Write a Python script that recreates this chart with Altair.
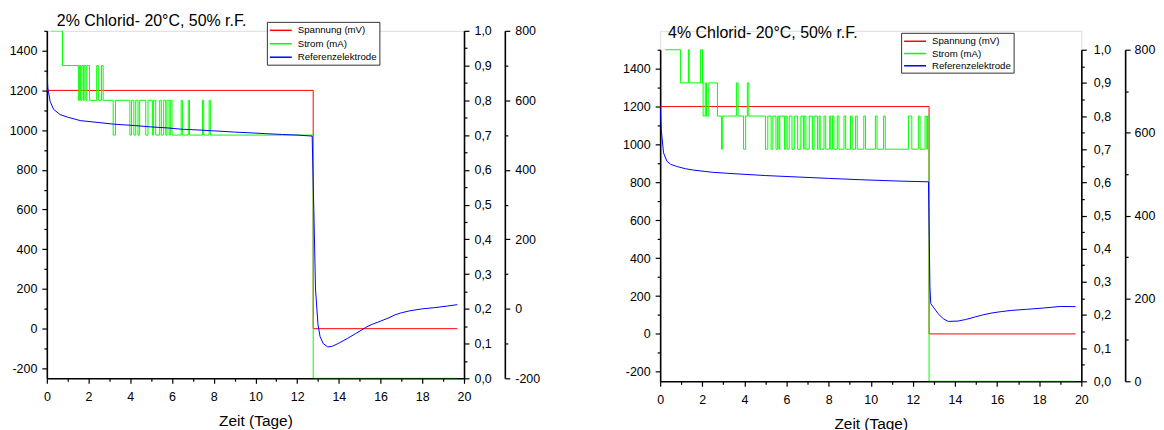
import altair as alt
import pandas as pd

FONT = "Liberation Sans"
SERIES = ["Spannung (mV)", "Strom (mA)", "Referenzelektrode"]
COLORS = ["#ff0000", "#00ff00", "#0000ff"]

# ---------------- left panel: 2% Chlorid ----------------
L_TITLE = "2% Chlorid- 20°C, 50% r.F."
L_SP_T = [0.0, 12.77, 12.77, 19.68]
L_SP_V = [1200, 1200, 0, 0]
L_ST_T = [0.19, 0.75, 1.51, 1.57, 1.62, 1.68, 1.75, 1.79, 1.87, 1.92, 2.05, 2.39, 2.47,
          2.62, 2.70, 3.18, 3.29, 3.98, 4.06, 4.17, 4.26, 4.37, 4.45, 4.74, 4.85, 5.06,
          5.12, 5.22, 5.41, 5.49, 5.60, 5.70, 5.76, 5.86, 5.92, 6.00, 6.44, 6.50, 6.78,
          6.84, 7.46, 7.52, 7.78, 7.84, 12.77, 19.68]
L_ST_V = [1.0, 0.9, 0.8, 0.9, 0.8, 0.9, 0.8, 0.9, 0.8, 0.9, 0.8, 0.9, 0.8,
          0.9, 0.8, 0.7, 0.8, 0.7, 0.8, 0.7, 0.8, 0.7, 0.8, 0.7, 0.8, 0.7,
          0.8, 0.7, 0.8, 0.7, 0.8, 0.7, 0.8, 0.7, 0.8, 0.7, 0.8, 0.7, 0.8,
          0.7, 0.8, 0.7, 0.8, 0.7, 0.0, 0.0]
L_REF_T = [0.0, 0.05, 0.16, 0.32, 0.64, 1.0, 1.6, 2.5, 3.2, 4.2, 5.0, 5.8, 6.4, 7.4, 8.2,
           9.0, 9.8, 10.5, 11.3, 12.0, 12.72, 12.8, 12.88, 13.0, 13.1, 13.25, 13.47, 13.7,
           14.0, 14.4, 14.8, 15.2, 15.35, 15.6, 16.0, 16.4, 16.7, 17.0, 17.4, 18.0, 18.6,
           19.2, 19.68]
L_REF_V = [1290, 1210, 1145, 1105, 1078, 1065, 1048, 1038, 1030, 1023, 1016, 1011, 1005,
           1000, 995, 990, 986, 982, 978, 975, 970, 600, 200, 20, -40, -75, -92, -88,
           -73, -50, -25, 0, 10, 22, 38, 55, 70, 80, 90, 100, 106, 114, 121]
L_REF_DOMAIN = [-200, 800]
L_REF_TICKS = list(range(-200, 900, 100))

# ---------------- right panel: 4% Chlorid ----------------
R_TITLE = "4% Chlorid- 20°C, 50% r.F."
R_SP_T = [0.0, 12.77, 12.77, 19.73]
R_SP_V = [1200, 1200, 0, 0]
R_ST_T = [0.24, 0.97, 1.34, 1.38, 1.92, 2.01, 2.04, 2.14, 2.20, 2.31, 2.72, 2.91, 2.97,
          3.62, 3.70, 3.96, 4.06, 4.14, 4.21, 5.00, 5.11, 5.27, 5.35, 5.50, 5.58, 5.64,
          5.68, 5.90, 5.97, 6.03, 6.13, 6.26, 6.37, 6.53, 6.68, 6.80, 6.84, 6.92, 7.08,
          7.23, 7.31, 7.47, 7.55, 7.60, 7.78, 7.86, 8.05, 8.10, 8.18, 8.25, 8.41, 8.49,
          8.73, 8.81, 9.04, 9.12, 9.28, 9.36, 9.67, 9.75, 10.22, 10.30, 10.61, 10.69,
          11.79, 11.95, 12.26, 12.34, 12.58, 12.66, 12.70, 12.77, 19.73]
R_ST_V = [1.0, 0.9, 1.0, 0.9, 1.0, 0.9, 0.8, 0.9, 0.8, 0.9, 0.8, 0.7, 0.8,
          0.9, 0.8, 0.7, 0.8, 0.9, 0.8, 0.7, 0.8, 0.7, 0.8, 0.7, 0.8, 0.7,
          0.8, 0.7, 0.8, 0.7, 0.8, 0.7, 0.8, 0.7, 0.8, 0.7, 0.8, 0.7, 0.8,
          0.7, 0.8, 0.7, 0.8, 0.7, 0.8, 0.7, 0.8, 0.7, 0.8, 0.7, 0.8, 0.7,
          0.8, 0.7, 0.8, 0.7, 0.8, 0.7, 0.8, 0.7, 0.8, 0.7, 0.8, 0.7,
          0.8, 0.7, 0.8, 0.7, 0.8, 0.7, 0.8, 0.0, 0.0]
R_REF_T = [0.0, 0.05, 0.16, 0.32, 0.5, 0.79, 1.2, 1.57, 2.5, 3.46, 5.0, 6.6, 8.0, 9.5,
           11.3, 12.74, 12.78, 12.81, 12.85, 12.97, 13.2, 13.45, 13.68, 14.15, 14.5,
           14.94, 15.3, 15.72, 16.2, 16.67, 17.4, 18.24, 19.0, 19.73]
R_REF_V = [1200, 1080, 956, 912, 895, 884, 872, 865, 853, 846, 836, 828, 821, 814,
           807, 803, 500, 250, 160, 142, 107, 80, 66, 68, 76, 89, 100, 110, 118, 124,
           130, 137, 145, 144]
R_REF_DOMAIN = [0, 800]
R_REF_TICKS = list(range(0, 900, 100))

# ---------------- shared axes ----------------
X_DOMAIN = [0, 20]
X_TICKS = list(range(0, 21))
SP_DOMAIN = [-250, 1500]
SP_TICKS = list(range(-200, 1600, 100))
ST_DOMAIN = [0, 1]
ST_TICKS = [round(i * 0.05, 2) for i in range(21)]


def line_df(ts, vs, name):
    return pd.DataFrame({"t": ts, "v": vs, "s": name, "i": list(range(len(ts)))})


def tick_size(test):
    return {"condition": {"test": test, "value": 5}, "value": 3}


def make_axis(values, test, label_expr, **kw):
    opts = dict(values=values, labelExpr=label_expr, tickSize=tick_size(test),
                domainColor="black", domainWidth=1.6, tickColor="black", tickWidth=1.2,
                labelColor="black", labelFont=FONT, labelFontSize=12.5,
                labelOverlap=False, labelFlush=False, grid=False, title=None)
    opts.update(kw)
    return alt.Axis(**opts)


def panel(title, title_dx, title_off, sp_t, sp_v, st_t, st_v, ref_t, ref_v, ref_domain,
          ref_ticks, w, h, inset, lx, ly, far_offset, mid_pad, far_pad, row_pad):
    sp = line_df(sp_t, sp_v, SERIES[0])
    st = line_df(st_t, st_v, SERIES[1])
    rf = line_df(ref_t, ref_v, SERIES[2])
    ax = pd.DataFrame({"a": ref_domain})
    full_h = h + inset
    y_range = [full_h, inset]

    x_axis = make_axis(X_TICKS, "datum.value % 2 === 0",
                       "datum.value % 2 === 0 ? '' + datum.value : ''",
                       labelPadding=7, title="Zeit (Tage)", titleFont=FONT,
                       titleFontSize=15.5, titleFontWeight="normal", titleColor="black",
                       titlePadding=11)
    left_axis = make_axis(SP_TICKS, "datum.value % 200 === 0",
                          "datum.value % 200 === 0 ? '' + datum.value : ''",
                          labelPadding=5)
    mid_axis = make_axis(ST_TICKS, "abs(datum.value * 10 - round(datum.value * 10)) < 0.001",
                         "abs(datum.value * 10 - round(datum.value * 10)) < 0.001 ? "
                         "replace(format(datum.value, '.1f'), '.', ',') : ''",
                         orient="right", labelPadding=mid_pad)
    far_axis = make_axis(ref_ticks, "datum.value % 200 === 0",
                         "datum.value % 200 === 0 ? '' + datum.value : ''",
                         orient="right", offset=far_offset, labelPadding=far_pad)

    legend = alt.Legend(orient="none", legendX=lx, legendY=ly, title=None,
                        fillColor="white", strokeColor="#333333", padding=2,
                        labelFont=FONT, labelFontSize=9.7, labelColor="black",
                        symbolType="M-1,0H3", symbolSize=121, symbolStrokeWidth=1.5,
                        labelOffset=16, rowPadding=row_pad)
    color = alt.Color("s:N", scale=alt.Scale(domain=SERIES, range=COLORS), legend=legend)
    xenc = alt.X("t:Q", scale=alt.Scale(domain=X_DOMAIN, nice=False, zero=False), axis=x_axis)
    sp_scale = alt.Scale(domain=SP_DOMAIN, nice=False, zero=False, range=y_range)

    l_sp = alt.Chart(sp).mark_line(strokeWidth=1, clip=True).encode(
        x=xenc, y=alt.Y("v:Q", scale=sp_scale, axis=left_axis), color=color, order="i:Q")
    l_st = alt.Chart(st).mark_line(strokeWidth=1, interpolate="step-after", clip=True).encode(
        x=xenc, y=alt.Y("v:Q", scale=alt.Scale(domain=ST_DOMAIN, nice=False, zero=False,
                                               range=y_range),
                        axis=mid_axis), color=color, order="i:Q")
    l_rf = alt.Chart(rf).mark_line(strokeWidth=1, clip=True).encode(
        x=xenc, y=alt.Y("v:Q", scale=sp_scale, axis=None), color=color, order="i:Q")
    l_ax = alt.Chart(ax).mark_point(opacity=0).encode(
        x=alt.value(0),
        y=alt.Y("a:Q", scale=alt.Scale(domain=ref_domain, nice=False, zero=False,
                                       range=y_range), axis=far_axis))

    return alt.layer(l_sp, l_st, l_rf, l_ax).resolve_scale(y="independent").properties(
        width=w, height=full_h,
        title=alt.TitleParams(text=title, anchor="start", frame="group", dx=title_dx,
                              offset=title_off, fontSize=16, font=FONT,
                              fontWeight="normal", color="black"))


left = panel(L_TITLE, 10, -8, L_SP_T, L_SP_V, L_ST_T, L_ST_V, L_REF_T, L_REF_V,
             L_REF_DOMAIN, L_REF_TICKS, 419, 349, 0, 221, -9, 41, 5, 5, 1.5)
right = panel(R_TITLE, 8, -10, R_SP_T, R_SP_V, R_ST_T, R_ST_V, R_REF_T, R_REF_V,
              R_REF_DOMAIN, R_REF_TICKS, 423, 333, 19, 242, 2, 44, 7, 4, 0.3)

chart = alt.hconcat(left, right, spacing=81).resolve_scale(color="independent").resolve_legend(
    color="independent").properties(padding={"left": 0, "top": 4, "right": 0, "bottom": 0}
).configure_view(stroke=None).configure(font=FONT)

chart.save("out.html", embed_options={"renderer": "svg", "actions": False})
